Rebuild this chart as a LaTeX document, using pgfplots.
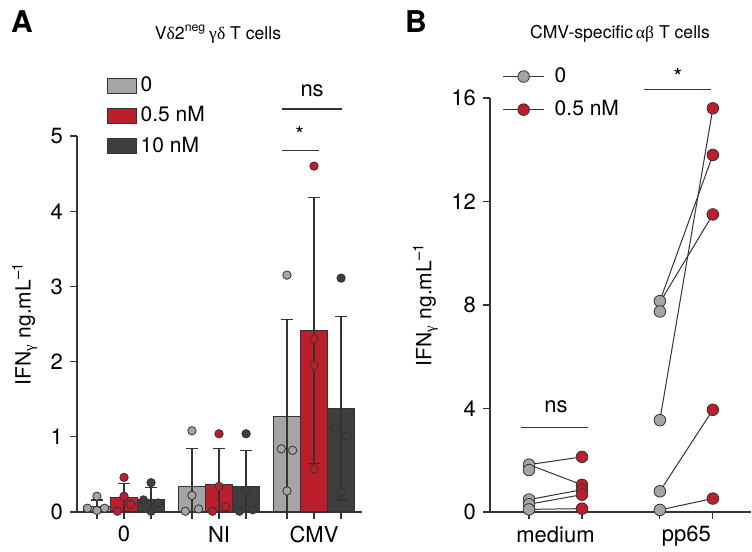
\documentclass[border=0pt]{standalone}
\usepackage{pgfplots}
\pgfplotsset{compat=1.18}
\usepackage{fontspec}
\setmainfont{TeX Gyre Heros}
\setsansfont{TeX Gyre Heros}
\newfontfamily\grk{Liberation Serif}

\definecolor{cgray}{HTML}{A5A5A5}
\definecolor{cred}{HTML}{BD1E2C}
\definecolor{cdark}{HTML}{3E3E3E}
\definecolor{cline}{HTML}{333333}

\pgfplotsset{
  panel/.style={
    scale only axis, clip=false,
    axis x line*=bottom, axis y line*=left,
    axis line style={cline, line width=0.6pt},
    tick style={cline, line width=0.6pt},
    tick align=outside, major tick length=3.5pt,
    ticklabel style={font=\fontsize{11}{13}\selectfont},
    label style={font=\fontsize{10.5}{12}\selectfont},
    /pgf/number format/assume math mode=true,
    ymin=0,
  },
  dots/.style={only marks, mark=*, forget plot,
    mark options={draw=cline, fill=#1, line width=0.4pt}},
  errs/.style={draw=none, mark=none, forget plot,
    error bars/.cd, y dir=both, y explicit,
    error bar style={draw=cline, line width=0.6pt},
    error mark options={draw=cline, line width=0.6pt, mark size=3.2pt, rotate=90}},
}

\begin{document}
\begin{tikzpicture}
\useasboundingbox (0,0) rectangle (376pt,276pt);

% ---------- panel A ----------
\begin{axis}[panel,
  at={(38.5pt,20pt)}, anchor=south west,
  width=142.5pt, height=188pt,
  xmin=-0.495, xmax=2.505, ymax=5,
  ytick={0,1,2,3,4,5},
  xtick={-0.285,0,0.285,0.715,1,1.285,1.715,2,2.285},
  xticklabels={,0,,,NI,,,CMV,},
  ylabel={IFN\textsubscript{\grk γ} ng.mL\textsuperscript{–1}},
  legend cell align=left,
  legend style={at={(axis cs:-0.25,5.9)}, anchor=north west, draw=none, fill=none,
    font=\fontsize{10.5}{12}\selectfont, row sep=2pt},
  legend image code/.code={\draw[#1, draw=cline, line width=0.5pt] (0pt,-3.7pt) rectangle (14.5pt,3.7pt);},
]
\addplot[ybar, bar width=0.284, bar shift=0pt, fill=cgray, draw=cline, line width=0.5pt]
  coordinates {(-0.285,0.075) (0.715,0.34) (1.715,1.27)};
\addplot[ybar, bar width=0.284, bar shift=0pt, fill=cred, draw=cline, line width=0.5pt]
  coordinates {(0,0.19) (1,0.36) (2,2.41)};
\addplot[ybar, bar width=0.284, bar shift=0pt, fill=cdark, draw=cline, line width=0.5pt]
  coordinates {(0.285,0.17) (1.285,0.34) (2.285,1.38)};
\legend{0, 0.5 nM, 10 nM}

\addplot[dots=cgray, mark size=2.1pt] coordinates {
  (-0.385,0.05) (-0.285,0.21) (-0.285,0.02) (-0.205,0.05)
  (0.715,1.08) (0.715,0.22) (0.645,0.01) (0.785,0.04)
  (1.715,3.15) (1.655,0.84) (1.775,0.82) (1.715,0.28)};
\addplot[dots=cred, mark size=2.1pt] coordinates {
  (0,0.46) (0,0.21) (-0.07,0.01) (0.07,0.10)
  (1,1.04) (1,0.34) (0.93,0.01) (1.07,0.07)
  (2,4.60) (2,2.30) (2,1.95) (2,0.57)};
\addplot[dots=cdark, mark size=2.1pt] coordinates {
  (0.285,0.39) (0.205,0.16) (0.285,0.01) (0.36,0.12)
  (1.285,1.04) (1.285,0.28) (1.215,0.01) (1.355,0.03)
  (2.285,3.11) (2.225,1.12) (2.35,1.01) (2.285,0.26)};

% SD bars, truncated at zero
\addplot[errs] coordinates {
  (-0.285,0.075) += (0,0.085) -= (0,0.075)
  (0,0.19) += (0,0.19) -= (0,0.19)
  (0.285,0.17) += (0,0.16) -= (0,0.16)
  (0.715,0.34) += (0,0.50) -= (0,0.34)
  (1,0.36) += (0,0.48) -= (0,0.36)
  (1.285,0.34) += (0,0.48) -= (0,0.34)
  (1.715,1.27) += (0,1.29) -= (0,1.27)
  (2,2.41) += (0,1.77) -= (0,1.77)
  (2.285,1.38) += (0,1.22) -= (0,1.22)};

\draw[cline, line width=0.6pt] (axis cs:1.663,4.81) -- (axis cs:2.053,4.81);
\node[font=\fontsize{11}{13}\selectfont] at (axis cs:1.85,5.02) {*};
\draw[cline, line width=0.6pt] (axis cs:1.663,5.36) -- (axis cs:2.295,5.36);
\node[font=\fontsize{11}{13}\selectfont] at (axis cs:1.98,5.60) {ns};
\end{axis}

% ---------- panel B ----------
\begin{axis}[panel,
  at={(245pt,20pt)}, anchor=south west,
  width=130.5pt, height=207pt,
  xmin=-0.736, xmax=4.19, ymax=16,
  ytick={0,4,8,12,16},
  xtick={0,1,2.47,3.47}, xticklabels={},
  extra x ticks={0.5,2.97}, extra x tick labels={medium,pp65},
  extra x tick style={tick style={draw=none}},
  ylabel={IFN\textsubscript{\grk γ} ng.mL\textsuperscript{–1}},
  legend cell align=left,
  legend style={at={(axis cs:-0.62,17.5)}, anchor=north west, draw=none, fill=none,
    font=\fontsize{10.5}{12}\selectfont, row sep=3.5pt,
    /tikz/every odd column/.append style={column sep=3pt}},
]
\addlegendimage{legend image code/.code={
  \draw[cline, line width=0.6pt] (0pt,0pt) -- (20.5pt,0pt);
  \draw[cline, line width=0.4pt, fill=cgray] (10.25pt,0pt) circle (2.9pt);}}
\addlegendentry{0}
\addlegendimage{legend image code/.code={
  \draw[cline, line width=0.6pt] (0pt,0pt) -- (20.5pt,0pt);
  \draw[cline, line width=0.4pt, fill=cred] (10.25pt,0pt) circle (2.9pt);}}
\addlegendentry{0.5 nM}

\pgfplotsset{pair/.style={cline, line width=0.5pt, mark=none, forget plot}}
\addplot[pair] coordinates {(0,1.83) (1,2.13)};
\addplot[pair] coordinates {(0,1.83) (1,1.05)};
\addplot[pair] coordinates {(0,0.48) (1,0.86)};
\addplot[pair] coordinates {(0,0.30) (1,0.67)};
\addplot[pair] coordinates {(0,0.10) (1,0.13)};
\addplot[pair] coordinates {(2.47,8.15) (3.47,13.8)};
\addplot[pair] coordinates {(2.47,8.10) (3.47,11.5)};
\addplot[pair] coordinates {(2.47,3.55) (3.47,15.6)};
\addplot[pair] coordinates {(2.47,0.80) (3.47,3.95)};
\addplot[pair] coordinates {(2.47,0.08) (3.47,0.52)};

\addplot[dots=cgray, mark size=2.9pt] coordinates {
  (0,1.83) (0,1.62) (0,0.48) (0,0.30) (0,0.10)
  (2.47,8.15) (2.47,7.75) (2.47,3.55) (2.47,0.80) (2.47,0.08)};
\addplot[dots=cred, mark size=2.9pt] coordinates {
  (1,2.13) (1,1.05) (1,0.86) (1,0.67) (1,0.13)
  (3.47,15.6) (3.47,13.8) (3.47,11.5) (3.47,3.95) (3.47,0.52)};

\draw[cline, line width=0.6pt] (axis cs:2.17,16.33) -- (axis cs:3.43,16.33);
\node[font=\fontsize{11}{13}\selectfont] at (axis cs:2.81,16.85) {*};
\draw[cline, line width=0.6pt] (axis cs:-0.15,3.28) -- (axis cs:1.11,3.28);
\node[font=\fontsize{11}{13}\selectfont] at (axis cs:0.51,4.05) {ns};
\end{axis}

% ---------- panel letters and titles ----------
\node[font=\fontsize{15}{17}\selectfont\bfseries] at (11pt,265pt) {A};
\node[font=\fontsize{15}{17}\selectfont\bfseries] at (208pt,265pt) {B};
\node[font=\fontsize{8.8}{10}\selectfont] at (109pt,259pt)
  {V{\grk δ}2\textsuperscript{neg}\,{\grk γδ} T cells};
\node[font=\fontsize{8.8}{10}\selectfont] at (310pt,259pt)
  {CMV-specific\,{\grk αβ} T cells};
\end{tikzpicture}
\end{document}
